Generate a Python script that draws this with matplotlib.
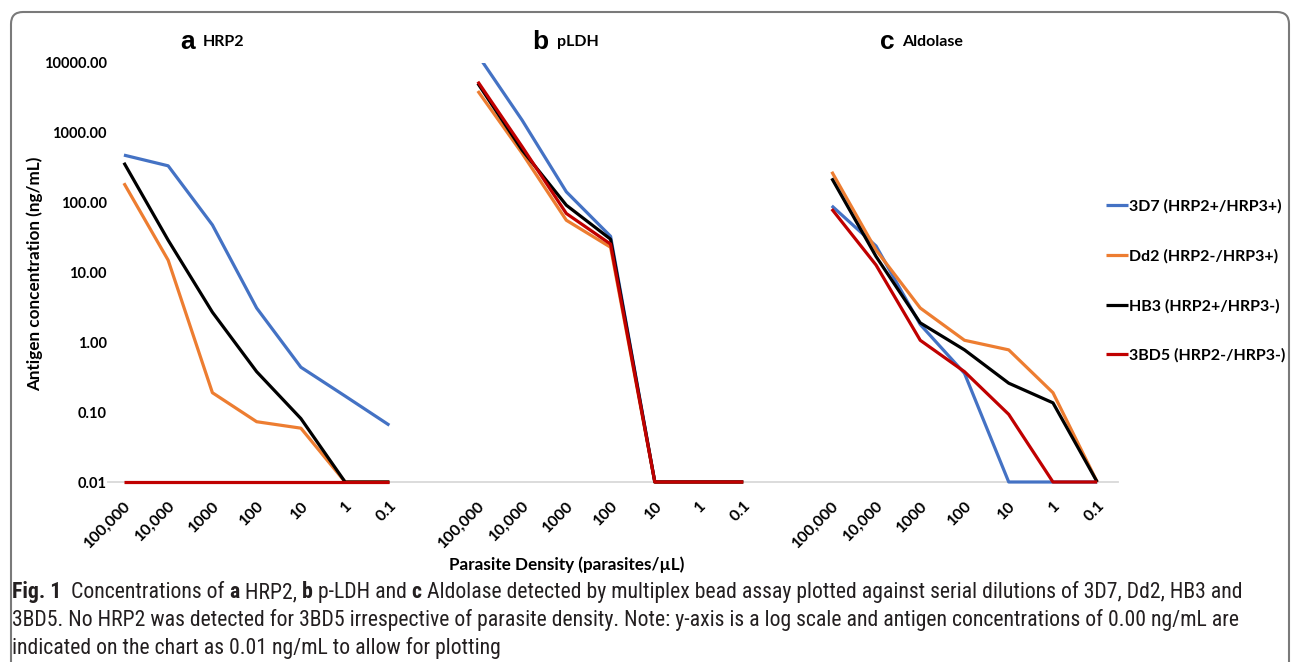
import matplotlib
matplotlib.use('Agg')
import matplotlib.pyplot as plt
from matplotlib.patches import FancyBboxPatch
from matplotlib.transforms import ScaledTranslation

# ---- data ----
densities = ['100,000', '10,000', '1000', '100', '10', '1', '0.1']
strains = ['3D7 (HRP2+/HRP3+)', 'Dd2 (HRP2-/HRP3+)', 'HB3 (HRP2+/HRP3-)', '3BD5 (HRP2-/HRP3-)']
colors = ['#4472C4', '#ED7D31', '#000000', '#C00000']

# HRP2
hrp2_3d7 = [480, 337, 48, 3.1, 0.44, 0.17, 0.065]
hrp2_dd2 = [190, 15, 0.19, 0.073, 0.059, 0.01, 0.01]
hrp2_hb3 = [373, 29, 2.7, 0.38, 0.081, 0.01, 0.01]
hrp2_3bd5 = [0.01, 0.01, 0.01, 0.01, 0.01, 0.01, 0.01]
# pLDH
pldh_3d7 = [13000, 1520, 143, 33, 0.01, 0.01, 0.01]
pldh_dd2 = [3970, 510, 56, 23, 0.01, 0.01, 0.01]
pldh_hb3 = [5100, 567, 92, 30, 0.01, 0.01, 0.01]
pldh_3bd5 = [5400, 635, 70, 25.5, 0.01, 0.01, 0.01]
# Aldolase
ald_3d7 = [90, 24, 1.8, 0.36, 0.01, 0.01, 0.01]
ald_dd2 = [277, 21, 3.1, 1.07, 0.78, 0.19, 0.01]
ald_hb3 = [223, 17, 1.9, 0.78, 0.26, 0.136, 0.01]
ald_3bd5 = [81, 12.8, 1.07, 0.38, 0.093, 0.01, 0.01]

panels = [
    ('a', 'HRP2', [hrp2_3d7, hrp2_dd2, hrp2_hb3, hrp2_3bd5]),
    ('b', 'pLDH', [pldh_3d7, pldh_dd2, pldh_hb3, pldh_3bd5]),
    ('c', 'Aldolase', [ald_3d7, ald_dd2, ald_hb3, ald_3bd5]),
]
yticks = [0.01, 0.1, 1, 10, 100, 1000, 10000]

W, H = 1293, 662
fig = plt.figure(figsize=(W / 100, H / 100), dpi=100)
ax = fig.add_axes([108 / W, 1 - 482 / H, (1118 - 108) / W, (482 - 63) / H])

bold = dict(family=['Lato', 'DejaVu Sans'], weight='bold')

n = len(densities)
xpos_all = []
xlab_all = []
handles = []
for k, (letter, name, series) in enumerate(panels):
    xs = [k * (n + 1) + i for i in range(n)]
    xpos_all += xs
    xlab_all += densities
    hs = []
    for vals, c in zip(series, colors):
        # let the 0.01 floor line sit on the axis, but clip values above the top
        ln, = ax.plot(xs, vals, color=c, lw=2.3, solid_joinstyle='round',
                      solid_capstyle='butt', clip_on=max(vals) > 10000)
        hs.append(ln)
    handles = hs

ax.set_yscale('log')
ax.set_ylim(0.01, 10000)
ax.set_xlim(-0.36, 22.47)
ax.set_yticks(yticks)
ax.set_yticklabels(['%.2f' % v for v in yticks], fontdict=dict(size=10.5, **bold))
ax.yaxis.set_minor_locator(matplotlib.ticker.NullLocator())
ax.set_xticks(xpos_all)
ax.set_xticklabels(xlab_all, fontdict=dict(size=11.5, **bold), rotation=45,
                   ha='right', rotation_mode='anchor')
shift = ScaledTranslation(5 / 100, 0, fig.dpi_scale_trans)
for lab in ax.get_xticklabels():
    lab.set_transform(lab.get_transform() + shift)
ax.tick_params(axis='both', length=0)
ax.tick_params(axis='y', pad=1)
ax.tick_params(axis='x', pad=12)
for s in ['top', 'right', 'left']:
    ax.spines[s].set_visible(False)
ax.spines['bottom'].set_color('#d9d9d9')
ax.spines['bottom'].set_linewidth(1.3)
ax.spines['bottom'].set_zorder(0)

# panel titles
title_pos = [(180, 203), (532, 557), (880, 902)]
for (letter, name, _), (xl, xn) in zip(panels, title_pos):
    fig.text(xl / W, 1 - 49 / H, letter, family=['Liberation Sans', 'DejaVu Sans'],
             weight='bold', size=19, va='baseline', ha='left')
    fig.text(xn / W, 1 - 46 / H, name, size=11.5, va='baseline', ha='left', **bold)

fig.text(35 / W, 1 - 274 / H, 'Antigen concentration (ng/mL)', size=12.3,
         rotation=90, ha='center', va='center', **bold)
fig.text(567 / W, 1 - 565 / H, 'Parasite Density (parasites/\u00b5L)', size=12.3,
         ha='center', va='center', **bold)

leg = fig.legend(handles, strains, loc='upper left',
                 bbox_to_anchor=(1092 / W, 1 - 185 / H), frameon=False,
                 handlelength=1.35, handletextpad=0.05, labelspacing=2.2,
                 prop=dict(size=11.5, **bold))

# caption
cap_font = ['Roboto Condensed', 'Open Sans Condensed', 'Liberation Sans Narrow',
            'Roboto', 'DejaVu Sans']
cap_lines = [
    [('Fig. 1', 'bold'), ('  Concentrations of ', 'normal'), ('a', 'bold'),
     (' HRP2, ', 'normal'), ('b', 'bold'), (' p-LDH and ', 'normal'), ('c', 'bold'),
     (' Aldolase detected by multiplex bead assay plotted against serial dilutions of 3D7, Dd2, HB3 and', 'normal')],
    [('3BD5. No HRP2 was detected for 3BD5 irrespective of parasite density. Note: y-axis is a log scale and antigen concentrations of 0.00 ng/mL are', 'normal')],
    [('indicated on the chart as 0.01 ng/mL to allow for plotting', 'normal')],
]
cap_y = [598, 626, 654]
fig.canvas.draw()
r = fig.canvas.get_renderer()

# fit the first caption line to the reference width (12 -> 1250 px)
trial = 14.0
wsum = 0
for txt, wgt in cap_lines[0]:
    t = fig.text(0, 0, txt, family=cap_font, size=trial, weight=wgt)
    wsum += t.get_window_extent(renderer=r).width
    t.remove()
cap_size = trial * (1238 / wsum)

for line, yy in zip(cap_lines, cap_y):
    x = 12
    for txt, wgt in line:
        t = fig.text(x / W, 1 - yy / H, txt, family=cap_font, size=cap_size,
                     weight=wgt, color='#231f20', va='baseline', ha='left')
        x += t.get_window_extent(renderer=r).width

# rounded frame
frame = FancyBboxPatch((0.11, -0.5), 12.78, 6.50 + 0.5,
                       boxstyle='round,pad=0,rounding_size=0.12',
                       transform=fig.dpi_scale_trans, fill=False,
                       edgecolor='#7a7a7a', lw=1.5)
fig.add_artist(frame)

fig.savefig('out.png', dpi=100)
